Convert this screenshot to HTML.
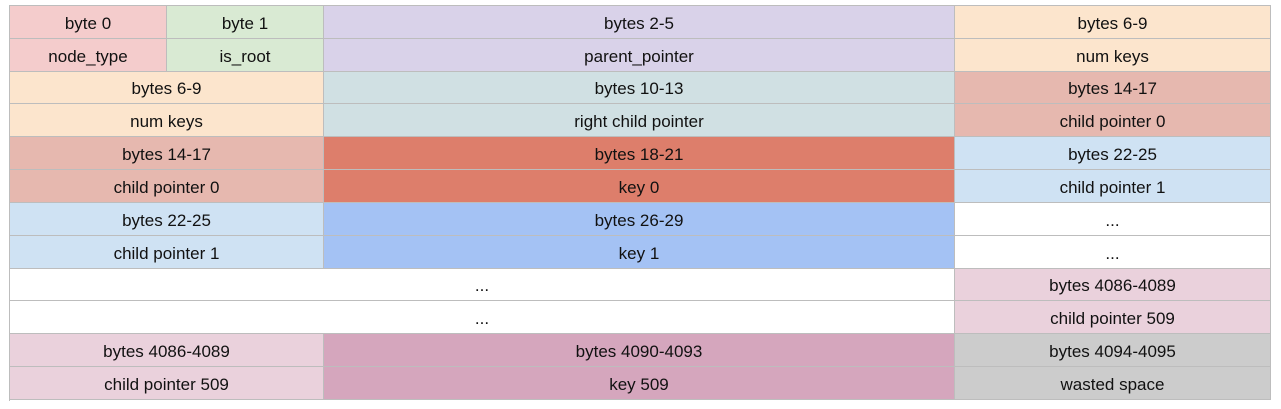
<!DOCTYPE html>
<html><head><style>
body{margin:0;width:1281px;height:409px;background:#fff;position:relative;overflow:hidden;font-family:"Liberation Sans",Arial,sans-serif;}
.c{position:absolute;box-sizing:border-box;border-right:1px solid #bdbdbd;border-bottom:1px solid #bdbdbd;display:flex;align-items:center;justify-content:center;font-size:17px;color:#111;padding-top:3px;}
</style></head><body>
<div style="position:absolute;left:10px;top:0;width:1261px;height:5px;border-bottom:1px solid #bdbdbd"></div>
<div style="position:absolute;left:9px;top:5px;width:1px;height:396px;background:#bdbdbd"></div>
<script>
var X=[10,167,324,955,1271];
function Y(r){return Math.round(6+r*32.83);}
var cells=[
[0,0,1,"#f4cccc","byte 0"],[1,0,1,"#f4cccc","node_type"],
[0,1,2,"#d9ead3","byte 1"],[1,1,2,"#d9ead3","is_root"],
[0,2,3,"#d9d2e9","bytes 2-5"],[1,2,3,"#d9d2e9","parent_pointer"],
[0,3,4,"#fce5cd","bytes 6-9"],[1,3,4,"#fce5cd","num keys"],
[2,0,2,"#fce5cd","bytes 6-9"],[3,0,2,"#fce5cd","num keys"],
[2,2,3,"#d0e0e3","bytes 10-13"],[3,2,3,"#d0e0e3","right child pointer"],
[2,3,4,"#e6b8af","bytes 14-17"],[3,3,4,"#e6b8af","child pointer 0"],
[4,0,2,"#e6b8af","bytes 14-17"],[5,0,2,"#e6b8af","child pointer 0"],
[4,2,3,"#dd7e6b","bytes 18-21"],[5,2,3,"#dd7e6b","key 0"],
[4,3,4,"#cfe2f3","bytes 22-25"],[5,3,4,"#cfe2f3","child pointer 1"],
[6,0,2,"#cfe2f3","bytes 22-25"],[7,0,2,"#cfe2f3","child pointer 1"],
[6,2,3,"#a4c2f4","bytes 26-29"],[7,2,3,"#a4c2f4","key 1"],
[6,3,4,"#ffffff","..."],[7,3,4,"#ffffff","..."],
[8,0,3,"#ffffff","..."],[9,0,3,"#ffffff","..."],
[8,3,4,"#ead1dc","bytes 4086-4089"],[9,3,4,"#ead1dc","child pointer 509"],
[10,0,2,"#ead1dc","bytes 4086-4089"],[11,0,2,"#ead1dc","child pointer 509"],
[10,2,3,"#d5a6bd","bytes 4090-4093"],[11,2,3,"#d5a6bd","key 509"],
[10,3,4,"#cccccc","bytes 4094-4095"],[11,3,4,"#cccccc","wasted space"]
];
var h="";
cells.forEach(function(c){var t=Y(c[0]),b=Y(c[0]+1);
h+='<div class="c" style="left:'+X[c[1]]+'px;top:'+t+'px;width:'+(X[c[2]]-X[c[1]])+'px;height:'+(b-t)+'px;background:'+c[3]+'">'+c[4]+'</div>';});
document.write(h);
</script>
</body></html>
